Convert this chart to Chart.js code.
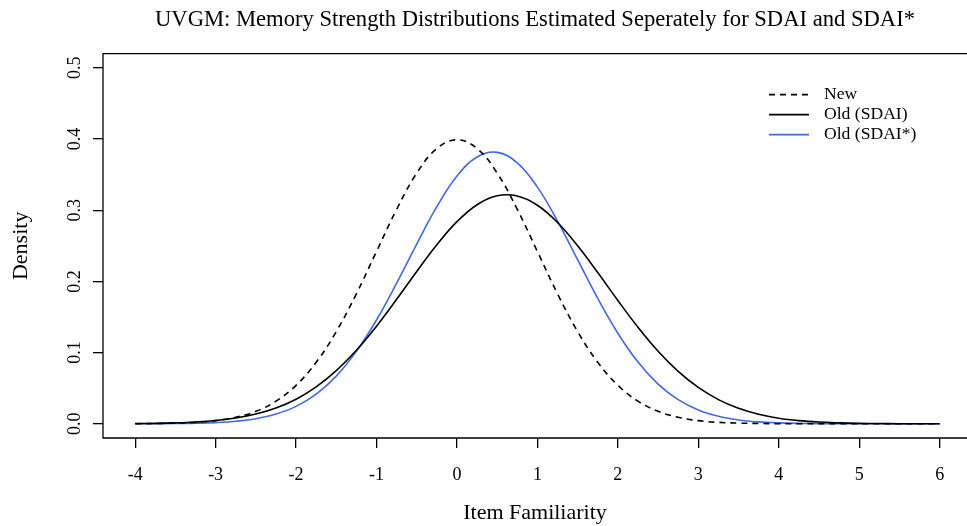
<!DOCTYPE html>
<html lang="en">
<head>
<meta charset="UTF-8">
<title>UVGM memory strength</title>
<script src="https://cdn.jsdelivr.net/npm/chart.js@4.4.1/dist/chart.umd.min.js"></script>
<style>
  html, body { margin: 0; padding: 0; background: #fff; overflow: hidden; }
  #wrap { width: 967px; height: 526px; }
</style>
</head>
<body>
<div id="wrap"><canvas id="plot" width="967" height="526"></canvas></div>
<script>
// x grid the curves were read at (step 0.25)
const xs = [-4, -3.75, -3.5, -3.25, -3, -2.75, -2.5, -2.25, -2, -1.75, -1.5, -1.25, -1, -0.75, -0.5, -0.25,
  0, 0.25, 0.5, 0.75, 1, 1.25, 1.5, 1.75, 2, 2.25, 2.5, 2.75, 3, 3.25, 3.5, 3.75, 4, 4.25, 4.5, 4.75,
  5, 5.25, 5.5, 5.75, 6];

const newItems = [0.0001, 0.0004, 0.0009, 0.0020, 0.0044, 0.0091, 0.0175, 0.0317, 0.0540, 0.0863, 0.1295, 0.1826,
  0.2420, 0.3011, 0.3521, 0.3867, 0.3989, 0.3867, 0.3521, 0.3011, 0.2420, 0.1826, 0.1295, 0.0863, 0.0540, 0.0317,
  0.0175, 0.0091, 0.0044, 0.0020, 0.0009, 0.0004, 0.0001, 0, 0, 0, 0, 0, 0, 0, 0];

const oldSdai = [0.0003, 0.0006, 0.0013, 0.0025, 0.0045, 0.0080, 0.0136, 0.0221, 0.0345, 0.0518, 0.0746, 0.1032,
  0.1370, 0.1748, 0.2140, 0.2515, 0.2839, 0.3077, 0.3202, 0.3200, 0.3070, 0.2828, 0.2501, 0.2124, 0.1732, 0.1356,
  0.1019, 0.0736, 0.0510, 0.0339, 0.0217, 0.0133, 0.0078, 0.0044, 0.0024, 0.0013, 0.0006, 0.0003, 0.0001, 0.0001, 0];

const oldSdaiStar = [0, 0.0001, 0.0003, 0.0007, 0.0016, 0.0035, 0.0071, 0.0136, 0.0244, 0.0416, 0.0669, 0.1017,
  0.1458, 0.1975, 0.2525, 0.3050, 0.3480, 0.3748, 0.3813, 0.3664, 0.3324, 0.2848, 0.2305, 0.1761, 0.1271, 0.0866,
  0.0557, 0.0339, 0.0194, 0.0105, 0.0054, 0.0026, 0.0012, 0.0005, 0.0002, 0.0001, 0, 0, 0, 0, 0];

const seriesNames = ['New', 'Old (SDAI)', 'Old (SDAI*)'];
const xTicks = [-4, -3, -2, -1, 0, 1, 2, 3, 4, 5, 6];
const xTickLabels = ['-4', '-3', '-2', '-1', '0', '1', '2', '3', '4', '5', '6'];
const yTicks = [0, 0.1, 0.2, 0.3, 0.4, 0.5];
const yTickLabels = ['0.0', '0.1', '0.2', '0.3', '0.4', '0.5'];

const serif = "'Liberation Serif', 'Times New Roman', serif";

const pts = (ys) => xs.map((x, i) => ({ x: x, y: ys[i] }));

// R style box: left, top and bottom (right edge falls off the page)
const boxPlugin = {
  id: 'box',
  afterDraw(chart) {
    const { ctx, chartArea: a } = chart;
    ctx.save();
    ctx.strokeStyle = '#000';
    ctx.lineWidth = 1.3;
    ctx.beginPath();
    ctx.moveTo(a.right + 2, a.top);
    ctx.lineTo(a.left, a.top);
    ctx.lineTo(a.left, a.bottom);
    ctx.lineTo(a.right + 2, a.bottom);
    ctx.stroke();
    ctx.restore();
  }
};

const legendPlugin = {
  id: 'rlegend',
  afterDraw(chart) {
    const { ctx, chartArea: a } = chart;
    const x0 = a.right - 198;
    const y0 = a.top + 41;
    ctx.save();
    ctx.font = '17.6px ' + serif;
    ctx.textBaseline = 'middle';
    ctx.fillStyle = '#000';
    chart.data.datasets.forEach((ds, i) => {
      const y = y0 + i * 20;
      ctx.strokeStyle = ds.borderColor;
      ctx.lineWidth = ds.borderWidth;
      ctx.setLineDash(ds.borderDash || []);
      ctx.beginPath();
      ctx.moveTo(x0, y);
      ctx.lineTo(x0 + 40, y);
      ctx.stroke();
      ctx.setLineDash([]);
      ctx.fillText(ds.label, x0 + 55, y);
    });
    ctx.restore();
  }
};

new Chart(document.getElementById('plot'), {
  type: 'line',
  data: {
    datasets: [
      { label: seriesNames[0], data: pts(newItems), borderColor: '#000', borderWidth: 1.6, borderDash: [6, 5] },
      { label: seriesNames[1], data: pts(oldSdai), borderColor: '#000', borderWidth: 1.6 },
      { label: seriesNames[2], data: pts(oldSdaiStar), borderColor: '#4169E1', borderWidth: 1.6 }
    ]
  },
  options: {
    responsive: false,
    animation: false,
    devicePixelRatio: 1,
    layout: { padding: 0 },
    elements: { point: { radius: 0 }, line: { tension: 0.4, fill: false } },
    plugins: {
      legend: { display: false },
      tooltip: { enabled: false },
      title: {
        display: true,
        fullSize: false,
        text: 'UVGM: Memory Strength Distributions Estimated Seperately for SDAI and SDAI*',
        color: '#000',
        font: { family: serif, size: 22.6, weight: 'normal' },
        padding: { top: 6.5, bottom: 20 }
      }
    },
    scales: {
      x: {
        type: 'linear',
        min: -4.4,
        max: 6.34,
        afterBuildTicks: (s) => { s.ticks = xTicks.map(v => ({ value: v })); },
        afterFit: (s) => { s.height = 88; },
        ticks: {
          callback: (v, i) => xTickLabels[i],
          autoSkip: false,
          maxRotation: 0,
          padding: 16,
          color: '#000',
          font: { family: serif, size: 18 }
        },
        grid: { drawOnChartArea: false, drawTicks: true, tickLength: 10, color: '#000', lineWidth: 1.3 },
        border: { display: false },
        title: {
          display: true,
          text: 'Item Familiarity',
          color: '#000',
          font: { family: serif, size: 22 },
          padding: { top: 0, bottom: 0 }
        }
      },
      y: {
        min: -0.02,
        max: 0.52,
        afterBuildTicks: (s) => { s.ticks = yTicks.map(v => ({ value: v })); },
        afterFit: (s) => { s.width = 103; },
        ticks: {
          callback: (v, i) => yTickLabels[i],
          minRotation: 90,
          maxRotation: 90,
          crossAlign: 'center',
          padding: 6,
          color: '#000',
          font: { family: serif, size: 18 }
        },
        grid: { drawOnChartArea: false, drawTicks: true, tickLength: 10, color: '#000', lineWidth: 1.3 },
        border: { display: false },
        title: {
          display: true,
          text: 'Density',
          color: '#000',
          font: { family: serif, size: 22 },
          padding: { top: 8, bottom: 0 }
        }
      }
    }
  },
  plugins: [boxPlugin, legendPlugin]
});
</script>
</body>
</html>
